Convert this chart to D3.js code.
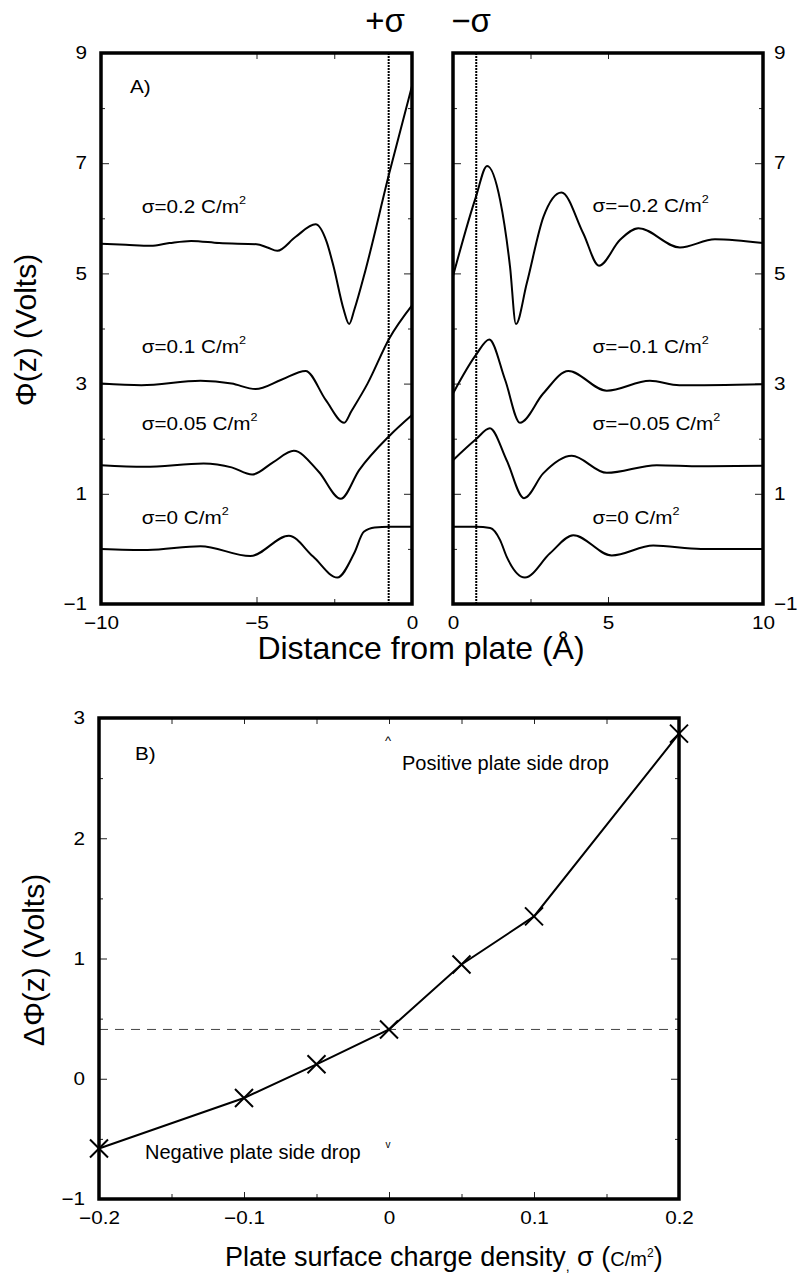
<!DOCTYPE html>
<html><head><meta charset="utf-8">
<script src="https://cdn.jsdelivr.net/npm/d3@7"></script>
<style>
body{margin:0;background:#fff;}
svg{display:block;font-family:"Liberation Sans",Arial,Helvetica,sans-serif;}
.sx{transform-box:fill-box;transform:scaleX(1.15);}
.ol{transform-origin:left center;}
.oc{transform-origin:center center;}
.or{transform-origin:right center;}
.axis path{display:none;}
.axis line{stroke:#222;stroke-width:1;}
</style></head><body>
<svg id="c" width="799" height="1274"></svg>
<script>
// ---------- data: panel A (potential profiles) ----------
const curvePos02 = [[-10,5.54],[-9.2,5.52],[-8.4,5.50],[-7.8,5.55],[-7.1,5.59],[-6.2,5.55],[-5.0,5.53],[-4.65,5.47],[-4.33,5.41],[-3.75,5.66],[-3.1,5.89],[-2.75,5.58],[-2.52,5.12],[-2.2,4.35],[-2.02,4.08],[-1.85,4.35],[-1.5,5.05],[-0.73,6.82],[0,8.4]];
const curvePos01 = [[-10,3.0],[-8.7,2.97],[-6.8,3.05],[-5.8,3.0],[-5.03,2.90],[-4.2,3.07],[-3.42,3.23],[-2.77,2.70],[-2.18,2.29],[-1.95,2.5],[-1.43,3.0],[-0.73,3.82],[0,4.42]];
const curvePos005 = [[-10,1.52],[-8.6,1.49],[-6.7,1.55],[-5.8,1.48],[-5.14,1.35],[-4.47,1.57],[-3.8,1.78],[-3.0,1.40],[-2.29,0.91],[-1.7,1.43],[-0.73,2.05],[0,2.43]];
const curvePos0 = [[-10,0.0],[-8.5,-0.02],[-6.8,0.05],[-5.2,-0.13],[-3.96,0.24],[-3.18,-0.14],[-2.4,-0.52],[-1.86,-0.08],[-1.55,0.31],[-1.2,0.39],[-0.73,0.4],[0,0.4]];
const curveNeg0 = [[0,0.4],[0.74,0.4],[1.2,0.38],[1.52,0.16],[1.73,-0.14],[2.32,-0.52],[3.13,-0.08],[3.88,0.25],[5.12,-0.12],[6.46,0.06],[8,0.0],[10,0.0]];
const curveNeg005 = [[0,1.61],[0.74,1.99],[1.19,2.19],[1.73,1.61],[2.29,0.92],[2.91,1.37],[3.83,1.69],[4.96,1.38],[6.57,1.52],[8,1.5],[10,1.51]];
const curveNeg01 = [[0,2.82],[0.74,3.52],[1.17,3.80],[1.68,3.07],[2.16,2.29],[2.91,2.82],[3.72,3.23],[4.96,2.87],[6.35,3.05],[7.3,2.97],[10,2.99]];
const curveNeg02 = [[0,4.95],[0.74,6.39],[1.1,6.95],[1.52,6.33],[1.84,5.12],[2.03,4.08],[2.38,4.82],[2.92,6.03],[3.5,6.47],[4.2,5.73],[4.71,5.14],[5.39,5.61],[5.98,5.82],[7.32,5.47],[8.45,5.62],[10,5.55]];
const labelsPos = ["σ=0.2 C/m","σ=0.1 C/m","σ=0.05 C/m","σ=0 C/m"];
const labelsNeg = ["σ=−0.2 C/m","σ=−0.1 C/m","σ=−0.05 C/m","σ=0 C/m"];
const labelLevels = [6.1, 3.55, 2.15, 0.45];   // data-y of label baselines
const plateEdge = 0.75;                          // dotted lines at ±0.75 Å
const yTicksMajorA = [-1,1,3,5,7,9];
const yTicksMinorA = [0,2,4,6,8];
const xTicksLeft = [-10,-5,0], xMinorLeft = [-2.5];
const xTicksRight = [0,5,10], xMinorRight = [2.5];

// ---------- data: panel B (potential drop) ----------
const sigmaVals = [-0.2,-0.1,-0.05,0,0.05,0.1,0.2];
const deltaPhi = [-0.58,-0.16,0.12,0.41,0.95,1.35,2.87];
const refLevel = 0.41;
const xTicksB = [-0.2,-0.1,0,0.1,0.2], xMinorB = [-0.15,-0.05,0.05,0.15];
const yTicksB = [-1,0,1,2,3], yMinorB = [-0.5,0.5,1.5,2.5];

const svg = d3.select("#c");
const fmt = d3.format("");

const xL = d3.scaleLinear().domain([-10,0]).range([101,412]);
const xR = d3.scaleLinear().domain([0,10]).range([453,763]);
const yA = d3.scaleLinear().domain([-1,9]).range([604,53]);
const xB = d3.scaleLinear().domain([-0.2,0.2]).range([99,679]);
const yB = d3.scaleLinear().domain([-1,3]).range([1199,718]);

function styleText(sel, origin, size){
  sel.attr("font-size", size).attr("fill","#000")
     .attr("font-family",'"Liberation Sans",Arial,sans-serif')
     .attr("class","sx "+origin);
}

function panel(x, y, o){
  const [x0,x1] = x.range(), [y0,y1] = y.range();
  const gb = svg.append("g").attr("class","axis").attr("transform",`translate(0,${y0})`)
    .call(d3.axisBottom(x).tickValues(o.xMaj).tickSize(-7).tickPadding(12).tickFormat(o.xLab ? fmt : ""));
  gb.selectAll("text").call(styleText,"oc",18);
  svg.append("g").attr("class","axis").attr("transform",`translate(0,${y0})`)
    .call(d3.axisBottom(x).tickValues(o.xMin).tickSize(-5).tickFormat(""));
  svg.append("g").attr("class","axis").attr("transform",`translate(0,${y1})`)
    .call(d3.axisTop(x).tickValues(o.xMaj.concat(o.xMin)).tickSize(-6).tickFormat(""));
  const gl = svg.append("g").attr("class","axis").attr("transform",`translate(${x0},0)`)
    .call(d3.axisLeft(y).tickValues(o.yMaj).tickSize(-8).tickPadding(14).tickFormat(o.yLeft ? fmt : ""));
  gl.selectAll("text").call(styleText,"or",18);
  svg.append("g").attr("class","axis").attr("transform",`translate(${x0},0)`)
    .call(d3.axisLeft(y).tickValues(o.yMin).tickSize(-4).tickFormat(""));
  const gr = svg.append("g").attr("class","axis").attr("transform",`translate(${x1},0)`)
    .call(d3.axisRight(y).tickValues(o.yMaj).tickSize(-8).tickPadding(11).tickFormat(o.yRight ? fmt : ""));
  gr.selectAll("text").call(styleText,"ol",18);
  svg.append("g").attr("class","axis").attr("transform",`translate(${x1},0)`)
    .call(d3.axisRight(y).tickValues(o.yMin).tickSize(-4).tickFormat(""));
}

function frame(x,y){
  const [x0,x1] = x.range(), [y0,y1] = y.range();
  svg.append("rect").attr("x",x0).attr("y",y1).attr("width",x1-x0).attr("height",y0-y1)
    .attr("fill","none").attr("stroke","#000").attr("stroke-width",3.5);
}

// ---------- Panel A ----------
panel(xL, yA, {xMaj:xTicksLeft, xMin:xMinorLeft, xLab:true, yMaj:yTicksMajorA, yMin:yTicksMinorA, yLeft:true, yRight:false});
panel(xR, yA, {xMaj:xTicksRight, xMin:xMinorRight, xLab:true, yMaj:yTicksMajorA, yMin:yTicksMinorA, yLeft:false, yRight:true});

[[xL,-plateEdge],[xR,plateEdge]].forEach(([sc,v])=>{
  svg.append("line").attr("x1",sc(v)).attr("x2",sc(v)).attr("y1",yA(9)).attr("y2",yA(-1))
    .attr("stroke","#000").attr("stroke-width",2).attr("stroke-dasharray","2,1");
});

const lineL = d3.line().x(d=>xL(d[0])).y(d=>yA(d[1])).curve(d3.curveMonotoneX);
const lineR = d3.line().x(d=>xR(d[0])).y(d=>yA(d[1])).curve(d3.curveMonotoneX);
[curvePos02,curvePos01,curvePos005,curvePos0].forEach(c=>{
  svg.append("path").attr("d",lineL(c)).attr("fill","none").attr("stroke","#000").attr("stroke-width",2);
});
[curveNeg02,curveNeg01,curveNeg005,curveNeg0].forEach(c=>{
  svg.append("path").attr("d",lineR(c)).attr("fill","none").attr("stroke","#000").attr("stroke-width",2);
});
frame(xL,yA); frame(xR,yA);

function curveLabel(x, yv, txt){
  const t = svg.append("text").attr("x",x).attr("y",yA(yv)).attr("font-size",18)
    .attr("class","sx ol");
  t.append("tspan").text(txt);
  t.append("tspan").attr("font-size",11).attr("dy",-9).text("2");
}
labelsPos.forEach((s,i)=>curveLabel(xL(-8.69), labelLevels[i], s));
labelsNeg.forEach((s,i)=>curveLabel(xR(4.5), labelLevels[i] + (i===0?0.02:0), s));

svg.append("text").attr("x",130).attr("y",93).attr("font-size",18).attr("class","sx ol").text("A)");
svg.append("text").attr("x",385).attr("y",32).attr("font-size",33).attr("text-anchor","middle").text("+σ");
svg.append("text").attr("x",471).attr("y",32).attr("font-size",33).attr("text-anchor","middle").text("−σ");
svg.append("text").attr("x",421).attr("y",659).attr("font-size",32).attr("text-anchor","middle").text("Distance from plate (Å)");
svg.append("text").attr("transform","translate(36,330) rotate(-90)").attr("font-size",30).attr("text-anchor","middle").text("Φ(z) (Volts)");

// ---------- Panel B ----------
panel(xB, yB, {xMaj:xTicksB, xMin:xMinorB, xLab:true, yMaj:yTicksB, yMin:yMinorB, yLeft:true, yRight:false});

svg.append("line").attr("x1",xB(-0.2)).attr("x2",xB(0.2)).attr("y1",yB(refLevel)).attr("y2",yB(refLevel))
  .attr("stroke","#444").attr("stroke-width",1).attr("stroke-dasharray","9,7");

const pts = sigmaVals.map((s,i)=>[s,deltaPhi[i]]);
svg.append("path").attr("d",d3.line().x(d=>xB(d[0])).y(d=>yB(d[1]))(pts))
  .attr("fill","none").attr("stroke","#000").attr("stroke-width",2);
const m = 9;
svg.append("g").selectAll("path").data(pts).join("path")
  .attr("d",d=>{const cx=xB(d[0]), cy=yB(d[1]);
     return `M${cx-m},${cy-m}L${cx+m},${cy+m}M${cx-m},${cy+m}L${cx+m},${cy-m}`;})
  .attr("stroke","#000").attr("stroke-width",2).attr("fill","none");
frame(xB,yB);

svg.append("text").attr("x",135).attr("y",760).attr("font-size",18).attr("class","sx ol").text("B)");
svg.append("text").attr("x",xB(0)-1).attr("y",745).attr("font-size",13).attr("text-anchor","middle").text("^");
svg.append("text").attr("x",402).attr("y",770).attr("font-size",20).text("Positive plate side drop");
svg.append("text").attr("x",145).attr("y",1159).attr("font-size",20).text("Negative plate side drop");
svg.append("text").attr("x",xB(0)-1).attr("y",1148).attr("font-size",10).attr("text-anchor","middle").text("v");

const xt = svg.append("text").attr("x",225).attr("y",1266).attr("font-size",27);
xt.append("tspan").text("Plate surface charge density");
xt.append("tspan").attr("font-size",14).attr("dy",5).text(",");
xt.append("tspan").attr("dy",-5).text(" σ (");
xt.append("tspan").attr("font-size",20).text("C/m");
xt.append("tspan").attr("font-size",12).attr("dy",-9).text("2");
xt.append("tspan").attr("dy",9).text(")");
svg.append("text").attr("transform","translate(44,960) rotate(-90)").attr("font-size",30).attr("text-anchor","middle").text("ΔΦ(z) (Volts)");
</script>
</body></html>
